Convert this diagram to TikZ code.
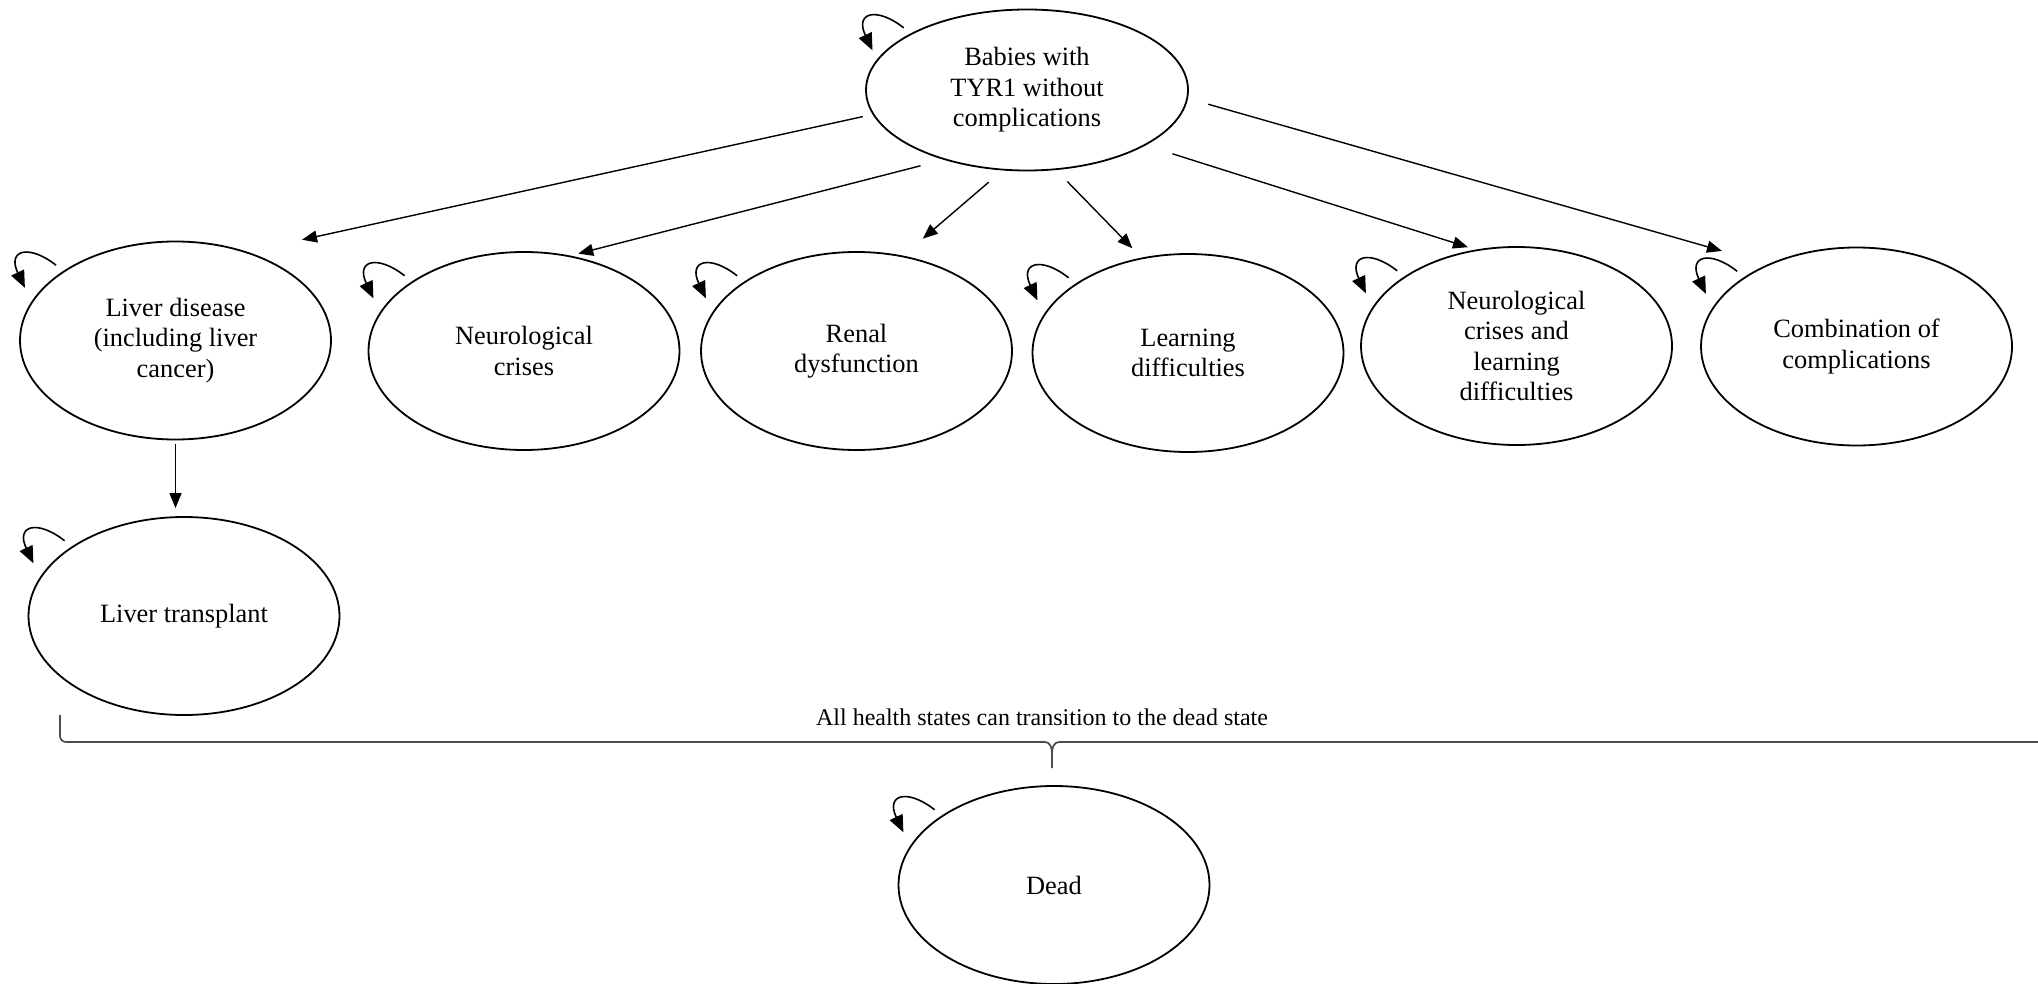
\documentclass[tikz,border=0pt]{standalone}
\usepackage{fontspec}
\setmainfont{Liberation Serif}
\usetikzlibrary{arrows.meta,shapes.geometric,calc}

\tikzset{
  state/.style={ellipse, draw, line width=0.9pt, minimum width=155.5pt, minimum height=99pt,
    inner sep=0pt, align=center, font=\fontsize{13.2}{15.2}\selectfont},
  arr/.style={-{Triangle[length=7.5pt,width=6pt]}, line width=0.7pt},
  loop/.style={-{Triangle[length=8.5pt,width=7pt]}, line width=0.8pt},
  bracket/.style={line width=0.85pt, draw=black!70},
}

\begin{document}
\begin{tikzpicture}[x=0.5pt,y=-0.5pt]
\useasboundingbox (0,0) rectangle (2038,984);
% health states
\node[state, minimum width=161pt, minimum height=80.5pt] (babies) at (1027,90) {Babies with\\TYR1 without\\complications};
\node[state] (liver) at (175.5,340.5) {Liver disease\\(including liver\\cancer)};
\node[state] (neuro) at (524,351) {Neurological\\crises};
\node[state] (renal) at (856.5,351) {Renal\\dysfunction};
\node[state] (learn) at (1188,353) {Learning\\difficulties};
\node[state] (neurolearn) at (1516.5,346) {Neurological\\crises and\\learning\\difficulties};
\node[state] (combo) at (1856.5,346.5) {Combination of\\complications};
\node[state] (transplant) at (184,616) {Liver transplant};
\node[state] (dead) at (1054,885) {Dead};
% transitions
\draw[arr, shorten <=5pt, shorten >=28pt] (babies.189) -- (liver.51);
\draw[arr, shorten <=12pt, shorten >=4pt] (babies.220) -- (neuro.64);
\draw[arr, shorten <=9pt, shorten >=13pt] (babies.253) -- (renal.64);
\draw[arr, shorten <=8pt, shorten >=6.5pt] (babies.290) -- (learn.116);
\draw[arr, shorten <=14pt, shorten >=4pt] (babies.335) -- (neurolearn.113);
\draw[arr, shorten <=10.5pt, shorten >=24pt] (babies.357) -- (combo.137);
\draw[arr, shorten <=2pt, shorten >=4pt] (liver.south) -- (liver.south |- transplant.north);
% staying in the same state
\foreach \n in {babies,liver,neuro,renal,learn,neurolearn,combo,transplant,dead}
  \draw[loop] ($(\n.north west)+(-4.4pt,2.3pt)$) .. controls ($(\n.north west)+(-18pt,13pt)$)
    and ($(\n.north west)+(-29pt,10pt)$) .. ($(\n.north west)+(-20pt,-9pt)$);
% all states to dead
\node[font=\fontsize{12}{14}\selectfont] (note) at (1042,717) {All health states can transition to the dead state};
\draw[bracket] (60,715) -- (60,736) to[out=-90,in=180] (66,742) -- (1045,742)
  to[out=0,in=90] (1052,753) -- (1052,768);
\draw[bracket] (1052,753) to[out=90,in=180] (1059,742) -- (2040,742);
\end{tikzpicture}
\end{document}
